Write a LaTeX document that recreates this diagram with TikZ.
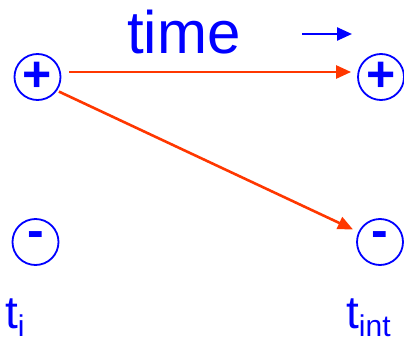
\documentclass[tikz,border=0pt]{standalone}
\usepackage{fontspec}
\setmainfont{Liberation Sans}
\usetikzlibrary{arrows.meta}
\definecolor{myred}{RGB}{255,55,0}
\definecolor{myblue}{RGB}{0,0,255}
\tikzset{
  charge/.style={circle, draw=myblue, line width=1.8pt, minimum size=46pt, inner sep=0pt, text=myblue, font=\fontsize{50}{50}\selectfont\bfseries},
  redarrow/.style={myred, line width=2.6pt, -{Triangle[length=15pt,width=13pt]}, shorten >=6pt},
  lbl/.style={text=myblue, inner sep=0pt, anchor=base west}
}
\begin{document}
\begin{tikzpicture}[x=1pt,y=-1pt]
\useasboundingbox (0,0) rectangle (404,345);
\node[charge] (pl) at (37.5,77) {\raisebox{1pt}{+}};
\node[charge] (pr) at (381,77) {\raisebox{1pt}{+}};
\node[charge] (ml) at (35.5,242) {\raisebox{4pt}{-}};
\node[charge] (mr) at (380,242) {\raisebox{4pt}{-}};
\node[lbl, font=\fontsize{60}{60}\selectfont] (time) at (127,53) {time};
\coordinate (ta) at (302,34);
\coordinate (tb) at (352,34);
\draw[myblue, line width=2.4pt, -{Triangle[length=15pt,width=13pt]}] (ta) -- (tb);
\draw[redarrow] (pl.east) ++(8,-5) coordinate (s1) -- (pr.west |- s1);
\draw[redarrow, shorten <=2pt] (pl.-35) -- (mr.155);
\node[lbl, font=\fontsize{46}{46}\selectfont] (ti) at (5,328) {t\raisebox{-8pt}{\fontsize{30}{30}\selectfont i}};
\node[lbl, font=\fontsize{46}{46}\selectfont] (tint) at (346,328) {t\raisebox{-8pt}{\fontsize{30}{30}\selectfont int}};
\end{tikzpicture}
\end{document}
